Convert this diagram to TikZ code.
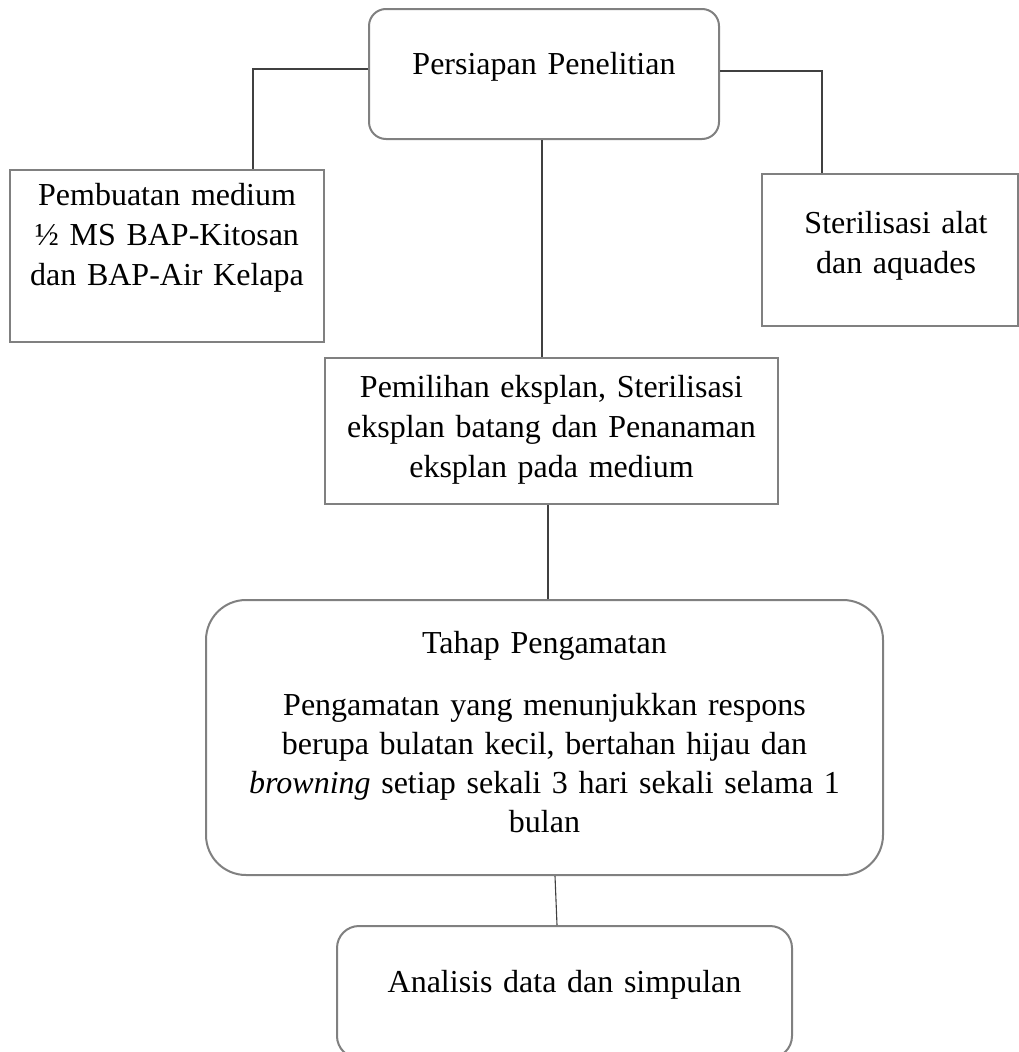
\documentclass[tikz,border=0pt]{standalone}
\usepackage{fontspec}
\setmainfont{Liberation Serif}
\begin{document}
\begin{tikzpicture}[x=1pt,y=-1pt,
  boxline/.style={draw=black!50, line width=2pt, inner sep=0pt},
  sqbox/.style={boxline, rectangle},
  rbox/.style={boxline, rectangle, rounded corners=#1},
  txt/.style={font=\fontsize{32}{40}\selectfont, align=center, anchor=base, inner sep=0pt, text width=#1},
  conn/.style={draw=black!75, line width=1.1pt}
]
\clip (0,0) rectangle (1019,1052);
\fill[white] (0,0) rectangle (1019,1052);

% boxes
\node[rbox=17pt, minimum width=350pt, minimum height=130pt] (top) at (544,74) {};
\node[sqbox, minimum width=314pt, minimum height=172pt] (left) at (167,256) {};
\node[sqbox, minimum width=256pt, minimum height=152pt] (right) at (890,250) {};
\node[sqbox, minimum width=453pt, minimum height=146pt] (mid) at (551.5,431) {};
\node[rbox=40pt, minimum width=677pt, minimum height=275pt] (obs) at (544.5,737.5) {};
\node[rbox=22pt, minimum width=455pt, minimum height=132pt] (ana) at (564.5,992) {};

% texts
\node[txt=340pt] (topT) at (544,74) {Persiapan Penelitian};
\node[txt=300pt] (leftT) at (167,205) {Pembuatan medium\\½ MS BAP-Kitosan\\dan BAP-Air Kelapa};
\node[txt=240pt] (rightT) at (896,233) {Sterilisasi alat\\dan aquades};
\node[txt=440pt] (midT) at (551.5,397) {Pemilihan eksplan, Sterilisasi\\eksplan batang dan Penanaman\\eksplan pada medium};
\node[txt=280pt] (obsT) at (544.5,653) {Tahap Pengamatan};
\node[txt=640pt, font=\fontsize{32}{39}\selectfont] (obsD) at (544.5,715) {Pengamatan yang menunjukkan respons\\berupa bulatan kecil, bertahan hijau dan\\\textit{browning} setiap sekali 3 hari sekali selama 1\\bulan};
\node[txt=440pt] (anaT) at (564.5,992) {Analisis data dan simpulan};

% connectors
\draw[conn] ([yshift=5pt]top.west) -| ([xshift=86pt]left.north);
\draw[conn] ([yshift=3pt]top.east) -| ([xshift=-68pt]right.north);
\draw[conn] ([xshift=-2pt]top.south) -- ([xshift=-2pt]top.south |- mid.north);
\draw[conn] ([xshift=-3.5pt]mid.south) -- ([xshift=-3.5pt]mid.south |- obs.north);
\draw[conn] ([xshift=10.5pt]obs.south) -- ([xshift=-7.5pt]ana.north);
\end{tikzpicture}
\end{document}
